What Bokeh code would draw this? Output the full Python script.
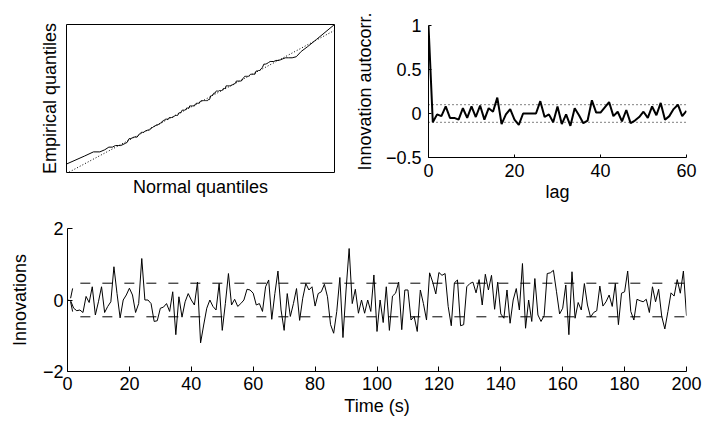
from statistics import NormalDist
import numpy as np
from bokeh.plotting import figure
from bokeh.models import Range1d, FixedTicker, Title
from bokeh.layouts import column, row
from bokeh.embed import file_html
from bokeh.resources import INLINE

# ---------------- data ----------------
time_s = list(range(0, 201))
innovations = [
    0.0, -0.02, -0.23, -0.30, -0.28, -0.35, 0.10, -0.07, 0.37, -0.42,
    -0.05, 0.37, -0.35, -0.18, -0.05, 0.93, 0.18, -0.50, 0.00, 0.14,
    0.33, 0.14, -0.35, -0.10, 1.16, 0.00, 0.00, -0.10, -0.60, -0.58,
    -0.23, -0.20, -0.10, -0.32, 0.23, -0.97, 0.09, -0.48, -0.05, 0.18,
    0.00, -0.14, 0.50, -1.20, -0.70, -0.23, 0.00, -0.18, -0.28, 0.46,
    -0.85, -0.10, 0.74, -0.14, 0.02, -0.18, -0.10, 0.00, 0.30, 0.28,
    0.19, -0.14, -0.10, -0.32, 0.37, 0.56, -0.54, 0.18, 0.81, -0.28,
    -0.85, 0.18, -0.46, -0.10, 0.32, -0.57, 0.05, 0.46, 0.28, 0.37,
    -0.17, 0.18, 0.23, 0.44, 0.09, -0.69, -0.93, -0.32, 0.63, -1.05,
    0.28, 1.44, -0.10, 0.30, -0.37, 0.00, -0.37, 0.00, -0.32, 0.70,
    -0.88, 0.00, -0.63, 0.37, -0.85, 0.11, 0.19, 0.50, -0.83, 0.28,
    0.28, -0.56, -0.46, -0.88, 0.28, -0.10, -0.56, 0.76, 0.50, 0.17,
    0.77, 0.69, 0.74, -0.18, -0.72, 0.48, 0.56, -0.72, -0.69, 0.37,
    0.46, 0.50, 0.20, 0.57, -0.14, 0.72, 0.28, 0.69, -0.26, 0.50,
    -0.39, -0.51, 0.28, -0.65, 0.00, 0.32, -0.28, 1.02, -0.79, 0.00,
    -0.60, 0.60, -0.42, -0.60, -0.44, 0.74, 0.76, 0.83, 0.23, -0.39,
    -0.23, 0.42, -0.97, 0.79, -0.51, -0.07, -0.28, 0.46, -0.14, -0.48,
    -0.35, -0.30, 0.39, -0.17, -0.05, 0.14, -0.18, 0.46, -0.69, 0.19,
    0.23, 0.81, -0.32, -0.56, 0.02, -0.02, -0.05, 0.02, -0.35, 0.37,
    -0.05, 0.30, -0.46, -0.81, -0.32, 0.20, 0.11, 0.57, 0.19, 0.81,
    -0.44,
]
bound_time = [1, 2, 200]
bound_upper = [0.05, 0.47, 0.47]
bound_lower = [-0.05, -0.47, -0.47]

lags = list(range(0, 61))
autocorr = [
    1.00, -0.10, -0.01, -0.03, 0.08, -0.05, -0.05, -0.07, 0.06, -0.05,
    0.08, -0.04, 0.09, -0.07, 0.06, 0.02, 0.18, -0.12, -0.01, 0.05,
    -0.07, -0.13, 0.00, 0.00, 0.00, 0.00, 0.14, -0.04, -0.01, -0.10,
    0.08, -0.12, -0.01, -0.14, 0.06, -0.02, -0.11, -0.08, 0.15, 0.01,
    0.01, 0.07, 0.13, -0.03, 0.02, -0.09, 0.04, -0.11, -0.08, -0.04,
    0.02, -0.05, 0.08, -0.02, 0.12, -0.07, -0.03, 0.05, 0.10, -0.03,
    0.03,
]
conf_lags = [0, 60]
conf_level = [0.1, 0.1]

x_ticks_time = [0, 20, 40, 60, 80, 100, 120, 140, 160, 180, 200]
y_ticks_innov = [-2, 0, 2]
x_ticks_lag = [0, 20, 40, 60]
y_ticks_ac = [-0.5, 0, 0.5, 1]

FONT = "Liberation Sans"
FS = "18px"


def style_axes(p, tick_in=5):
    p.grid.visible = False
    for ax in (p.xaxis[0], p.yaxis[0]):
        ax.axis_line_color = "black"
        ax.axis_line_width = 1
        ax.major_tick_in = tick_in
        ax.major_tick_out = 0
        ax.minor_tick_line_color = None
        ax.major_tick_line_color = "black"
        ax.major_label_text_font = FONT
        ax.major_label_text_font_size = FS
        ax.major_label_text_color = "black"
        ax.axis_label_text_font = FONT
        ax.axis_label_text_font_size = FS
        ax.axis_label_text_font_style = "normal"
        ax.axis_label_text_color = "black"


# ---------------- QQ plot ----------------
data_sorted = sorted(innovations)
n = len(data_sorted)
nd = NormalDist()
normal_q = [nd.inv_cdf((i + 0.5) / n) for i in range(n)]
q1, q3 = np.percentile(innovations, [25, 75])
nq1, nq3 = nd.inv_cdf(0.25), nd.inv_cdf(0.75)
slope = (q3 - q1) / (nq3 - nq1)
ref_x = [normal_q[0], normal_q[-1]]
ref_y = [q1 + slope * (x - nq1) for x in ref_x]

p1 = figure(width=351, height=205, output_backend="svg", toolbar_location=None,
            x_axis_location=None, y_axis_location=None, frame_align=False,
            x_range=Range1d(normal_q[0], normal_q[-1]),
            y_range=Range1d(-1.36, max(innovations)),
            min_border_left=66, min_border_right=17,
            min_border_top=24, min_border_bottom=33)
p1.grid.visible = False
p1.line(ref_x, ref_y, line_color="black", line_width=1, line_dash="1 2")
p1.line(normal_q, data_sorted, line_color="black", line_width=1)
p1.add_layout(Title(text="Normal quantiles", align="center", text_font=FONT,
                    text_font_size=FS, text_font_style="normal",
                    text_color="black", standoff=5), "below")
p1.add_layout(Title(text="Empirical quantiles", align="center", text_font=FONT,
                    text_font_size=FS, text_font_style="normal",
                    text_color="black", standoff=13), "left")
p1.outline_line_color = "black"
p1.outline_line_width = 1
p1.outline_line_alpha = 1

# ---------------- autocorrelation ----------------
p2 = figure(width=352, height=205, output_backend="svg", toolbar_location=None,
            frame_align=False,
            x_range=Range1d(0, 60), y_range=Range1d(-0.5, 1),
            min_border_left=70, min_border_right=17,
            min_border_top=25, min_border_bottom=48)
p2.line(conf_lags, conf_level, line_color="black", line_width=1, line_dash="1 3")
p2.line(conf_lags, [-v for v in conf_level], line_color="black", line_width=1, line_dash="1 3")
p2.line(lags, autocorr, line_color="black", line_width=2)
style_axes(p2, tick_in=3)
p2.xaxis.ticker = FixedTicker(ticks=x_ticks_lag)
p2.yaxis.ticker = FixedTicker(ticks=y_ticks_ac)
p2.xaxis.axis_label = "lag"
p2.yaxis.axis_label = "Innovation autocorr."
p2.xaxis.major_label_standoff = 6
p2.yaxis.major_label_standoff = 7
p2.xaxis.axis_label_standoff = 2
p2.yaxis.axis_label_standoff = 8
p2.outline_line_color = None

# ---------------- innovations ----------------
p3 = figure(width=703, height=217, output_backend="svg", toolbar_location=None,
            frame_align=False,
            x_range=Range1d(0, 200), y_range=Range1d(-2, 2),
            min_border_left=67, min_border_right=17,
            min_border_top=23, min_border_bottom=51)
p3.line(bound_time, bound_upper, line_color="black", line_width=1, line_dash="10 12")
p3.line(bound_time, bound_lower, line_color="black", line_width=1, line_dash="10 12")
p3.line(time_s, innovations, line_color="black", line_width=1)
style_axes(p3, tick_in=5)
p3.xaxis.ticker = FixedTicker(ticks=x_ticks_time)
p3.yaxis.ticker = FixedTicker(ticks=y_ticks_innov)
p3.xaxis.axis_label = "Time (s)"
p3.yaxis.axis_label = "Innovations"
p3.xaxis.major_label_standoff = 5
p3.yaxis.major_label_standoff = 4
p3.xaxis.axis_label_standoff = 3
p3.yaxis.axis_label_standoff = 10
p3.outline_line_color = None

layout = column(row(p1, p2), p3)
open("out.html", "w").write(file_html(layout, INLINE))
